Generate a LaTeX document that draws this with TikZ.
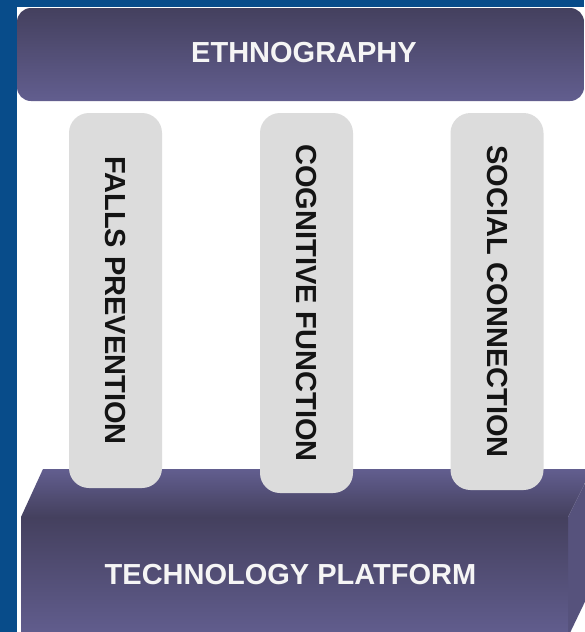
\documentclass[tikz,border=0pt]{standalone}
\usepackage{fontspec}
\setmainfont{Liberation Sans}
\definecolor{sideblue}{RGB}{8,76,138}
\definecolor{slatedark}{RGB}{68,64,94}
\definecolor{slatelight}{RGB}{98,94,143}
\definecolor{slateside}{RGB}{86,82,124}
\definecolor{pillargray}{RGB}{220,220,220}
\tikzset{
  banner/.style={rounded corners=14pt,top color=slatedark,bottom color=slatelight,inner sep=0pt},
  pillar/.style={rounded corners=20pt,fill=pillargray,rotate=-90,minimum height=93pt,inner sep=0pt,
    font=\fontsize{29}{34}\selectfont\bfseries,text=black!92},
  boxtext/.style={font=\fontsize{29}{34}\selectfont\bfseries,text=white!96!black}
}

\begin{document}
\begin{tikzpicture}[x=1pt,y=-1pt]
\useasboundingbox (0,0) rectangle (584,632);
\fill[sideblue] (0,0) rectangle (584,632);
\fill[white] (17,7) rectangle (584,632);
\node[banner,minimum width=567pt,minimum height=93pt] (ethnography) at (300.5,54.5) {};
\node[boxtext] (ethnolabel) at (304,52.5) {ETHNOGRAPHY};
\shade[top color=slatelight,bottom color=slatedark] (43,469) -- (592,469) -- (568,517) -- (21,517) -- cycle;
\fill[slateside] (568,517) -- (592,469) -- (592,587) -- (568,637) -- cycle;
\shade[top color=slatedark,bottom color=slatelight] (21,517) rectangle (568,637);
\node[boxtext] (platform) at (290.5,575) {TECHNOLOGY PLATFORM};
\node[pillar,minimum width=375pt] (falls) at (115.5,300.5) {FALLS PREVENTION};
\node[pillar,minimum width=380pt] (cognitive) at (306.5,303) {COGNITIVE FUNCTION};
\node[pillar,minimum width=377pt] (social) at (497,301.5) {SOCIAL CONNECTION};
\end{tikzpicture}
\end{document}
